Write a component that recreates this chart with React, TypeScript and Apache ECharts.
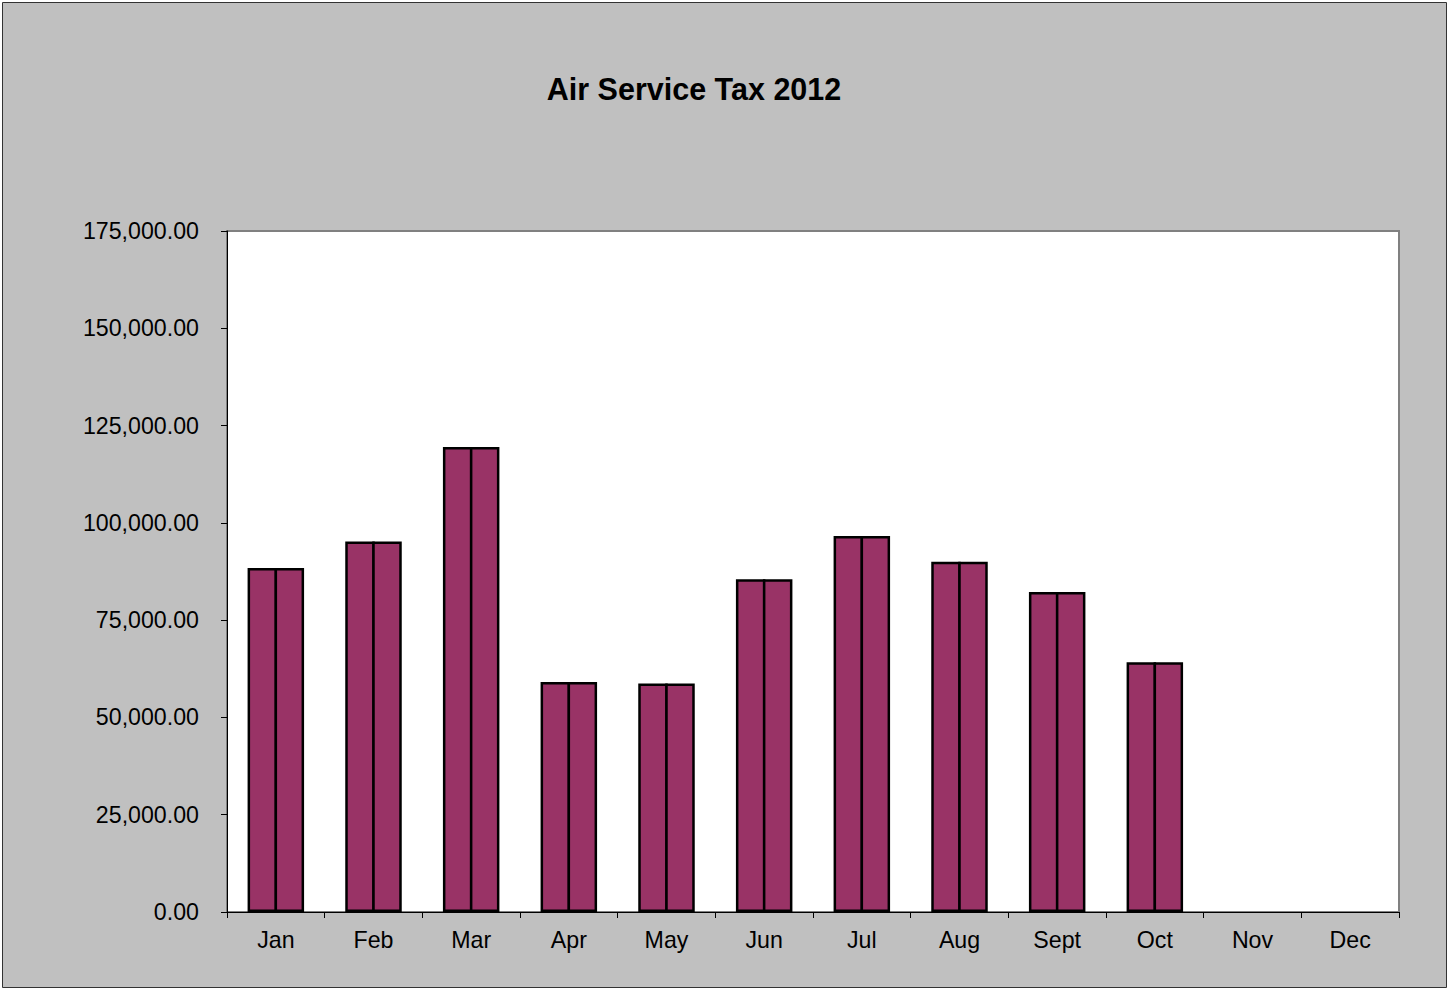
import React, { useEffect, useRef } from "react";
import * as echarts from "echarts";

const categories = ["Jan", "Feb", "Mar", "Apr", "May", "Jun", "Jul", "Aug", "Sept", "Oct", "Nov", "Dec"];
const taxValues: (number | null)[] = [88400, 95200, 119500, 59100, 58700, 85500, 96600, 90000, 82200, 64200, null, null];
const yTicks = { min: 0, max: 175000, interval: 25000 };
const titleText = "Air Service Tax 2012";

const W = 1448;
const H = 990;
const FONT = "'Liberation Sans', Arial, sans-serif";

export default function App() {
  const ref = useRef<HTMLDivElement>(null);
  useEffect(() => {
    document.body.style.margin = "0";
    const chart = echarts.init(ref.current!, null, { renderer: "svg", width: W, height: H });
    const fmt = (v: number) =>
      v.toLocaleString("en-US", { minimumFractionDigits: 2, maximumFractionDigits: 2 });
    const barSeries = (name: string) => ({
      type: "bar",
      name,
      data: taxValues,
      barWidth: 29.5,
      barGap: "-8.5%",
      itemStyle: { color: "#993366", borderColor: "#000000", borderWidth: 2.5 },
      emphasis: { disabled: true },
    });
    chart.setOption({
      animation: false,
      backgroundColor: "#ffffff",
      textStyle: { fontFamily: FONT },
      graphic: [
        {
          type: "rect",
          z: -10,
          shape: { x: 2.5, y: 2.5, width: 1444, height: 985 },
          style: { fill: "#c0c0c0", stroke: "#333333", lineWidth: 1 },
          silent: true,
        },
        {
          type: "rect",
          z: -5,
          shape: { x: 227, y: 231, width: 1172, height: 681 },
          style: { fill: "#ffffff", stroke: "#808080", lineWidth: 2 },
          silent: true,
        },
        {
          type: "text",
          x: 694,
          y: 89,
          style: {
            text: titleText,
            fontFamily: FONT,
            fontSize: 30.5,
            fontWeight: "bold",
            fill: "#000000",
            align: "center",
            verticalAlign: "middle",
          },
          silent: true,
        },
      ],
      grid: { left: 227, top: 231, right: W - 1399, bottom: H - 912, containLabel: false },
      xAxis: {
        type: "category",
        data: categories,
        boundaryGap: true,
        axisLine: { show: true, lineStyle: { color: "#000000", width: 1 } },
        axisTick: { show: true, length: 6, lineStyle: { color: "#000000" } },
        axisLabel: { color: "#000000", fontSize: 23.2, fontFamily: FONT, margin: 16, interval: 0 },
        splitLine: { show: false },
      },
      yAxis: {
        type: "value",
        min: yTicks.min,
        max: yTicks.max,
        interval: yTicks.interval,
        axisLine: { show: true, lineStyle: { color: "#000000", width: 1 } },
        axisTick: { show: true, length: 6, lineStyle: { color: "#000000" } },
        axisLabel: { color: "#000000", fontSize: 23.2, fontFamily: FONT, margin: 28, formatter: fmt },
        splitLine: { show: false },
      },
      series: [barSeries("Series A"), barSeries("Series B")],
    });
    return () => chart.dispose();
  }, []);
  return <div ref={ref} style={{ width: W, height: H }} />;
}
